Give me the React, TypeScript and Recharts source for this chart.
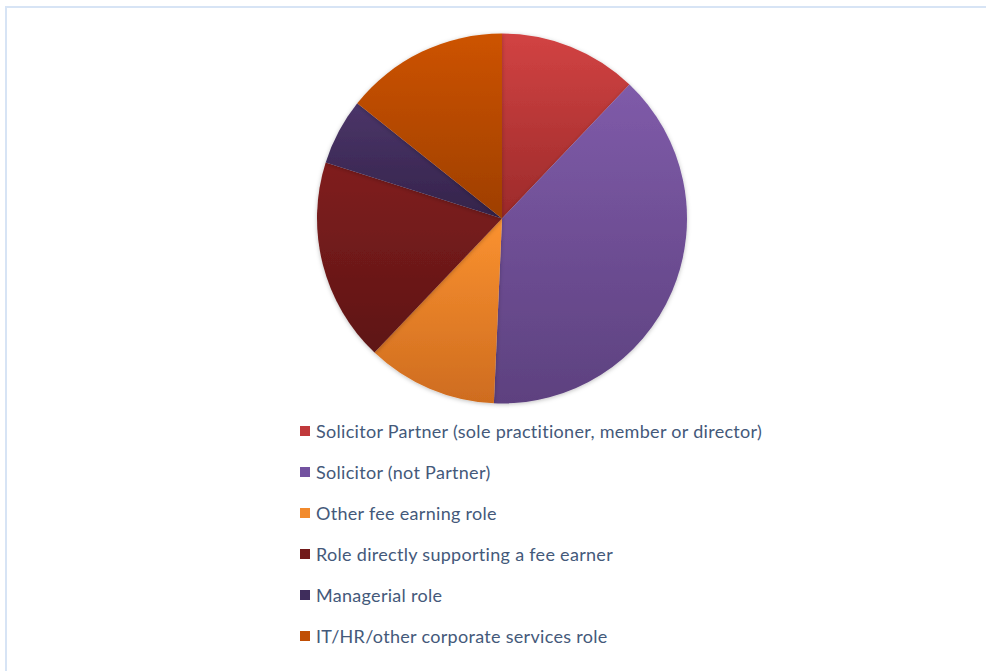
import React from 'react';
import { PieChart, Pie, Cell, Legend } from 'recharts';

const roles = [
  'Solicitor Partner (sole practitioner, member or director)',
  'Solicitor (not Partner)',
  'Other fee earning role',
  'Role directly supporting a fee earner',
  'Managerial role',
  'IT/HR/other corporate services role',
];
const shares = [12.1, 38.6, 11.4, 17.8, 5.8, 14.3];

// gradient stops per slice: [top, bottom], plus flat swatch colour for the legend
const topColors = ['#D24343', '#7F5BA9', '#FB9230', '#801F1F', '#4B3569', '#CD5300'];
const bottomColors = ['#9C2A2A', '#5D417F', '#CE6C1F', '#5E1414', '#34234A', '#9E3F00'];
const swatchColors = ['#C0393B', '#7352A0', '#F28A2C', '#721A1A', '#3F2D5C', '#C04E04'];

const data = roles.map((name, i) => ({ name, value: shares[i] }));

const LegendList = () => (
  <div style={{ fontFamily: 'Lato, "Noto Sans", sans-serif', fontSize: 18, letterSpacing: 0.3, color: '#44597A' }}>
    {roles.map((r, i) => (
      <div key={r} style={{ display: 'flex', alignItems: 'center', height: 41 }}>
        <span style={{ width: 10, height: 10, background: swatchColors[i], marginRight: 6, display: 'inline-block' }} />
        <span style={{ whiteSpace: 'nowrap' }}>{r}</span>
      </div>
    ))}
  </div>
);

export default function App() {
  return (
    <div style={{ position: 'absolute', left: 0, top: 0, width: 986, height: 671, overflow: 'hidden', background: '#fff' }}>
      <div style={{ position: 'absolute', left: 5, top: 6, width: 1000, height: 700, border: '2px solid #D7E4F5' }} />
      <PieChart width={986} height={671} margin={{ top: 0, right: 0, bottom: 0, left: 0 }} style={{ position: 'absolute', left: 0, top: 0 }}>
        <defs>
          {topColors.map((c, i) => (
            <linearGradient key={i} id={`slice${i}`} x1="0" y1="0" x2="0" y2="1">
              <stop offset="0%" stopColor={c} />
              <stop offset="100%" stopColor={bottomColors[i]} />
            </linearGradient>
          ))}
          <filter id="pieShadow" x="-10%" y="-10%" width="120%" height="120%">
            <feDropShadow dx="0" dy="1" stdDeviation="2" floodColor="#000" floodOpacity="0.25" />
          </filter>
        </defs>
        <Pie
          data={data}
          dataKey="value"
          nameKey="name"
          cx={502}
          cy={218.5}
          outerRadius={185}
          startAngle={90}
          endAngle={-270}
          stroke="none"
          isAnimationActive={false}
          style={{ filter: 'url(#pieShadow)' }}
        >
          {data.map((d, i) => (
            <Cell key={d.name} fill={`url(#slice${i})`} />
          ))}
        </Pie>
        <Legend
          layout="vertical"
          content={() => <LegendList />}
          wrapperStyle={{ left: 300, top: 410, width: 520 }}
        />
      </PieChart>
    </div>
  );
}
